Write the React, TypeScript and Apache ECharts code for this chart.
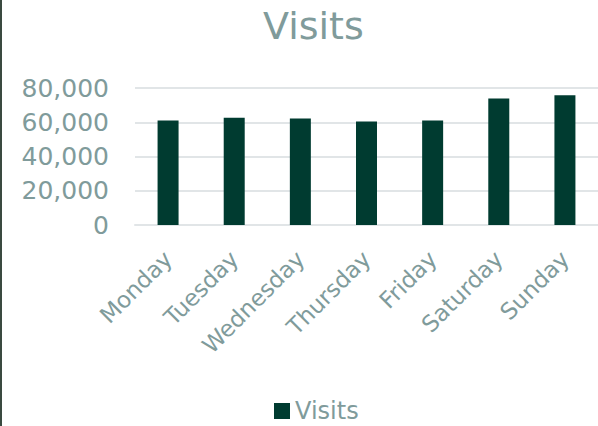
import React, { useEffect, useRef } from "react";
import * as echarts from "echarts";

const categories = ["Monday", "Tuesday", "Wednesday", "Thursday", "Friday", "Saturday", "Sunday"];
const visits = [61000, 62700, 62200, 60400, 61000, 73900, 75700];
const seriesName = "Visits";
const titleText = "Visits";

const TEXT = "#809b9b";
const BAR = "#003b30";
const GRID = "#e1e5e7";
const FONT = "DejaVu Sans";

export default function App() {
  const ref = useRef<HTMLDivElement>(null);
  useEffect(() => {
    const chart = echarts.init(ref.current!, null, { renderer: "svg" });
    chart.setOption({
      animation: false,
      backgroundColor: "#ffffff",
      title: {
        text: titleText,
        left: 258,
        top: 2,
        textStyle: { color: TEXT, fontSize: 38, fontWeight: "normal", fontFamily: FONT },
      },
      legend: {
        top: 399,
        left: 274,
        padding: 0,
        icon: "rect",
        itemWidth: 16,
        itemHeight: 16,
        itemGap: 6,
        textStyle: { color: TEXT, fontSize: 24, fontFamily: FONT },
        data: [seriesName],
      },
      grid: { left: 135, right: 0, top: 88, bottom: 201 },
      xAxis: {
        type: "category",
        data: categories,
        axisLine: { lineStyle: { color: GRID, width: 2 } },
        axisTick: { show: false },
        axisLabel: {
          rotate: 45,
          color: TEXT,
          fontSize: 23,
          fontFamily: FONT,
          margin: 30,
          interval: 0,
        },
      },
      yAxis: {
        type: "value",
        min: 0,
        max: 80000,
        interval: 20000,
        axisLine: { show: false },
        axisTick: { show: false },
        splitLine: { lineStyle: { color: GRID, width: 2 } },
        axisLabel: {
          color: TEXT,
          fontSize: 25,
          fontFamily: FONT,
          margin: 26,
          formatter: (v: number) => v.toLocaleString("en-US"),
        },
      },
      series: [
        {
          name: seriesName,
          type: "bar",
          data: visits,
          barWidth: 21,
          itemStyle: { color: BAR },
        },
      ],
      graphic: [
        {
          type: "rect",
          left: 0,
          top: 0,
          shape: { width: 2, height: 426 },
          style: { fill: "#3a4a40" },
          silent: true,
        },
      ],
    });
    return () => chart.dispose();
  }, []);
  return (
    <div
      ref={ref}
      style={{ position: "absolute", left: 0, top: 0, width: 598, height: 426 }}
    />
  );
}
